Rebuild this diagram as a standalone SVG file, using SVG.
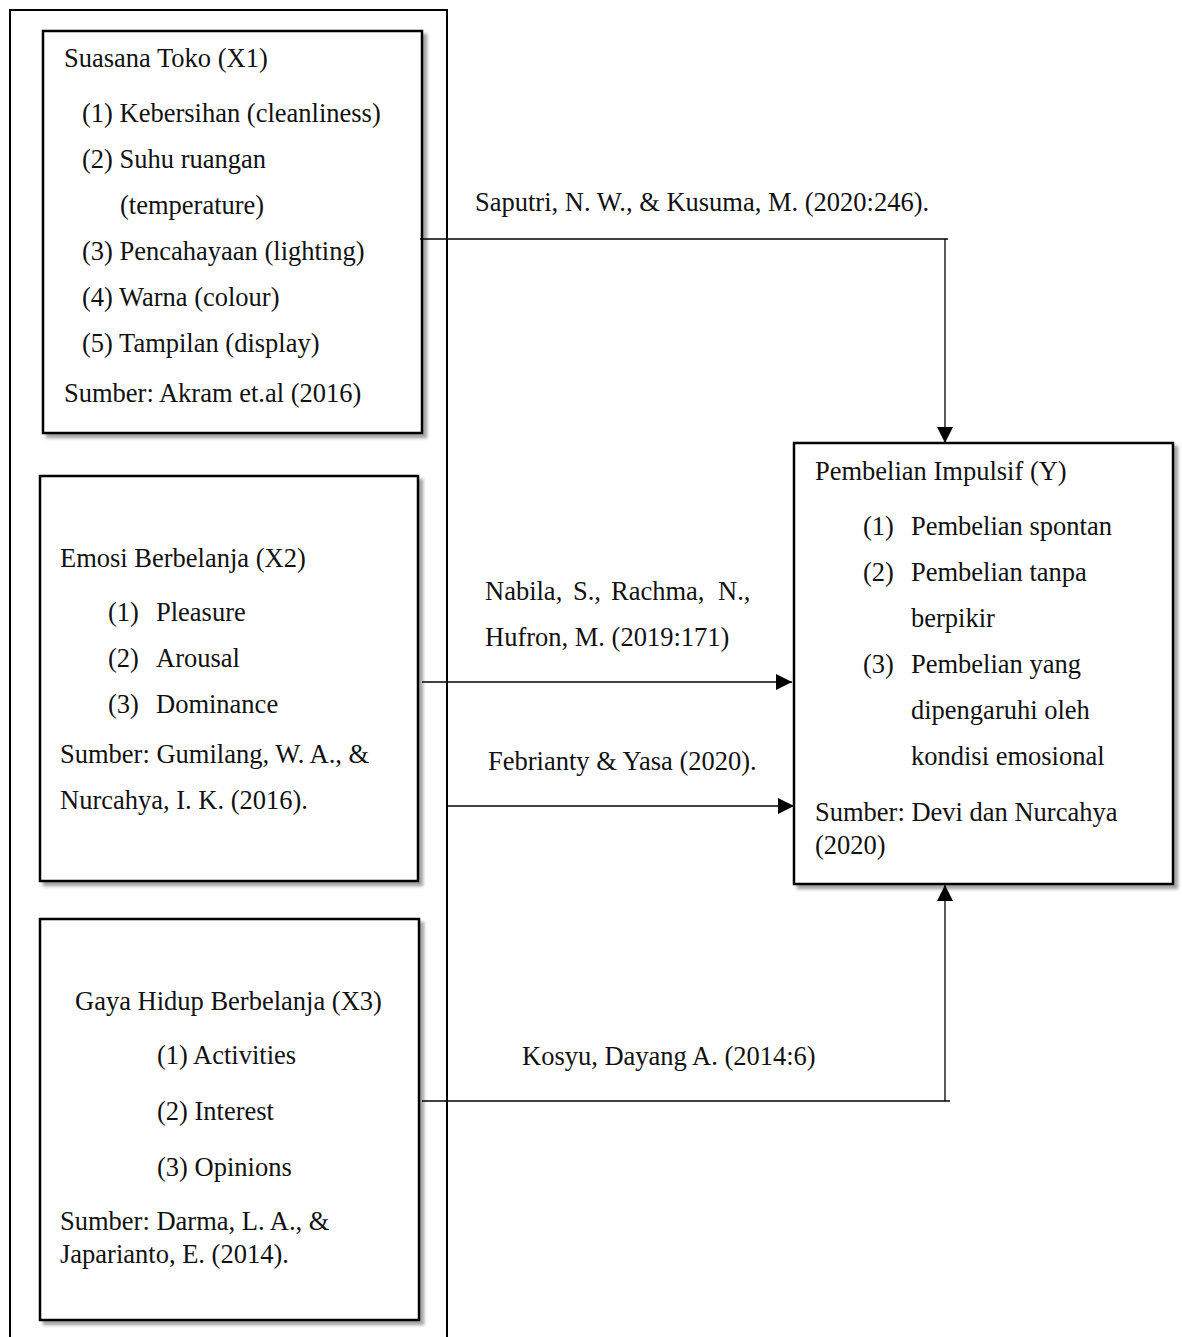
<svg xmlns="http://www.w3.org/2000/svg" width="1182" height="1337" viewBox="0 0 1182 1337">
<defs>
<filter id="sh" x="-5%" y="-5%" width="115%" height="115%">
<feGaussianBlur in="SourceAlpha" stdDeviation="1.5"/>
<feOffset dx="4" dy="4" result="b"/>
<feFlood flood-color="#000" flood-opacity="0.35"/>
<feComposite in2="b" operator="in"/>
<feMerge><feMergeNode/><feMergeNode in="SourceGraphic"/></feMerge>
</filter>
<marker id="ah" markerWidth="16" markerHeight="16" refX="16" refY="8" orient="auto" markerUnits="userSpaceOnUse">
<path d="M0,0 L16,8 L0,16 Z" fill="#000"/>
</marker>
</defs>
<style>
text{font-family:"Liberation Serif","Times New Roman",serif;font-size:26.5px;fill:#111}
.box{fill:#fff;stroke:#000;stroke-width:2.5;filter:url(#sh)}
.ln{stroke:#000;stroke-width:1.3;fill:none}
</style>
<rect x="10" y="10" width="437" height="1345" fill="none" stroke="#000" stroke-width="2"/>
<g id="x1">
<rect class="box" x="43" y="31" width="379" height="402"/>
<text x="64" y="66.5">Suasana Toko (X1)</text>
<text x="82" y="121.5">(1) Kebersihan (cleanliness)</text>
<text x="82" y="167.5">(2) Suhu ruangan</text>
<text x="120" y="213.5">(temperature)</text>
<text x="82" y="259.5">(3) Pencahayaan (lighting)</text>
<text x="82" y="305.5">(4) Warna (colour)</text>
<text x="82" y="351.5">(5) Tampilan (display)</text>
<text x="64" y="401.5">Sumber: Akram et.al (2016)</text>
</g>
<g id="x2">
<rect class="box" x="40" y="476" width="378" height="405"/>
<text x="60" y="566.5">Emosi Berbelanja (X2)</text>
<text x="108" y="620.5">(1)</text><text x="156" y="620.5">Pleasure</text>
<text x="108" y="666.5">(2)</text><text x="156" y="666.5">Arousal</text>
<text x="108" y="712.5">(3)</text><text x="156" y="712.5">Dominance</text>
<text x="60" y="762.5">Sumber: Gumilang, W. A., &amp;</text>
<text x="60" y="808.5">Nurcahya, I. K. (2016).</text>
</g>
<g id="x3">
<rect class="box" x="40" y="919" width="379" height="401"/>
<text x="75" y="1009.5">Gaya Hidup Berbelanja (X3)</text>
<text x="157" y="1063.5">(1) Activities</text>
<text x="157" y="1119.5">(2) Interest</text>
<text x="157" y="1175.5">(3) Opinions</text>
<text x="60" y="1229.5">Sumber: Darma, L. A., &amp;</text>
<text x="60" y="1262.5">Japarianto, E. (2014).</text>
</g>
<g id="y">
<rect class="box" x="794" y="443" width="379" height="441"/>
<text x="815" y="479.5">Pembelian Impulsif (Y)</text>
<text x="863" y="534.5">(1)</text><text x="911" y="534.5">Pembelian spontan</text>
<text x="863" y="580.5">(2)</text><text x="911" y="580.5">Pembelian tanpa</text>
<text x="911" y="626.5">berpikir</text>
<text x="863" y="672.5">(3)</text><text x="911" y="672.5">Pembelian yang</text>
<text x="911" y="718.5">dipengaruhi oleh</text>
<text x="911" y="764.5">kondisi emosional</text>
<text x="815" y="820.5">Sumber: Devi dan Nurcahya</text>
<text x="815" y="853.5">(2020)</text>
</g>
<g id="connectors">
<path class="ln" d="M420,239 H948"/>
<path class="ln" d="M945,239 V443" marker-end="url(#ah)"/>
<path class="ln" d="M422,682 H792" marker-end="url(#ah)"/>
<path class="ln" d="M448,806 H794" marker-end="url(#ah)"/>
<path class="ln" d="M422,1101 H950"/>
<path class="ln" d="M945,1101 V885" marker-end="url(#ah)"/>
<text x="475" y="210.5">Saputri, N. W., &amp; Kusuma, M. (2020:246).</text>
<text y="599.5"><tspan x="485">Nabila,</tspan><tspan x="573">S.,</tspan><tspan x="611">Rachma,</tspan><tspan x="718">N.,</tspan></text>
<text x="485" y="645.5">Hufron, M. (2019:171)</text>
<text x="488" y="769.5">Febrianty &amp; Yasa (2020).</text>
<text x="522" y="1064.5">Kosyu, Dayang A. (2014:6)</text>
</g>
</svg>
